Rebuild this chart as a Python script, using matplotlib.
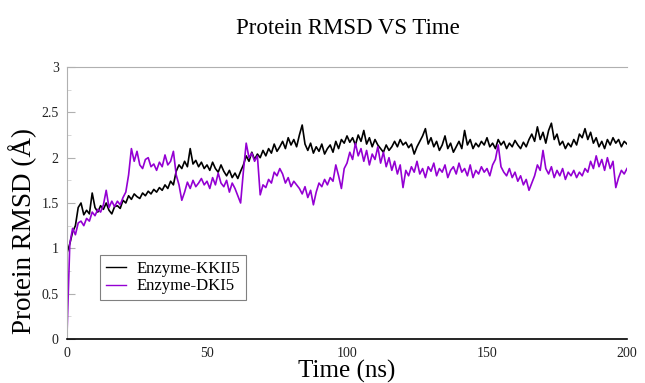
import matplotlib
matplotlib.use("Agg")
import matplotlib.pyplot as plt
from matplotlib.ticker import MultipleLocator

plt.rcParams['font.family'] = ['Liberation Serif', 'DejaVu Serif']

title = "Protein RMSD VS Time"
xlabel = "Time (ns)"
ylabel = "Protein RMSD (Å)"
series_names = ["Enzyme-KKII5", "Enzyme-DKI5"]

time_ns = list(range(0, 201))

rmsd_kkii5 = [
    0.95, 1.05, 1.18, 1.25, 1.45, 1.50, 1.37, 1.42, 1.38, 1.61,
    1.45, 1.40, 1.47, 1.43, 1.50, 1.42, 1.38, 1.46, 1.47, 1.44,
    1.53, 1.50, 1.58, 1.54, 1.60, 1.57, 1.55, 1.61, 1.58, 1.63,
    1.60, 1.65, 1.62, 1.67, 1.64, 1.70, 1.66, 1.74, 1.70, 1.85,
    1.92, 1.88, 1.96, 1.90, 2.10, 1.93, 1.97, 1.90, 1.95, 1.88,
    1.92, 1.86, 1.95, 1.88, 1.84, 1.92, 1.85, 1.80, 1.86, 1.78,
    1.83, 1.77, 1.85, 1.92, 2.02, 1.96, 2.06, 1.98, 2.04, 2.00,
    2.08, 2.02, 2.10, 2.05, 2.15, 2.07, 2.12, 2.18, 2.10, 2.22,
    2.14, 2.20, 2.12, 2.25, 2.36, 2.15, 2.08, 2.16, 2.05, 2.12,
    2.07, 2.15, 2.04, 2.10, 2.14, 2.06, 2.18, 2.10, 2.20, 2.16,
    2.24, 2.17, 2.22, 2.14, 2.25, 2.18, 2.30, 2.15, 2.22, 2.12,
    2.20, 2.14, 2.10, 2.06, 2.14, 2.08, 2.12, 2.18, 2.12, 2.20,
    2.14, 2.17, 2.11, 2.15, 2.04, 2.12, 2.18, 2.24, 2.32, 2.15,
    2.22, 2.12, 2.18, 2.08, 2.14, 2.24, 2.10, 2.16, 2.06, 2.12,
    2.18, 2.10, 2.30, 2.14, 2.20, 2.10, 2.16, 2.12, 2.18, 2.14,
    2.22, 2.12, 2.16, 2.10, 2.20, 2.14, 2.18, 2.10, 2.16, 2.12,
    2.19, 2.14, 2.10, 2.17, 2.12, 2.20, 2.26, 2.18, 2.34, 2.20,
    2.28, 2.16, 2.30, 2.38, 2.20, 2.26, 2.14, 2.18, 2.10, 2.16,
    2.12, 2.20, 2.14, 2.26, 2.22, 2.32, 2.20, 2.28, 2.16, 2.22,
    2.12, 2.18, 2.10, 2.20, 2.14, 2.22, 2.16, 2.20, 2.12, 2.18,
    2.15,
]

rmsd_dki5 = [
    0.05, 1.05, 1.22, 1.15, 1.28, 1.30, 1.25, 1.33, 1.30, 1.40,
    1.36, 1.43, 1.40, 1.48, 1.64, 1.45, 1.52, 1.46, 1.52, 1.48,
    1.56, 1.62, 1.81, 2.10, 1.96, 2.07, 1.92, 1.88, 1.98, 2.00,
    1.90, 1.93, 1.86, 1.95, 1.90, 2.03, 1.92, 1.96, 2.07, 1.81,
    1.70, 1.53, 1.62, 1.73, 1.66, 1.75, 1.68, 1.72, 1.77, 1.70,
    1.74, 1.66, 1.78, 1.70, 1.83, 1.72, 1.68, 1.75, 1.62, 1.72,
    1.66, 1.58, 1.50, 1.85, 2.16, 2.00, 2.05, 1.96, 2.02, 1.59,
    1.70, 1.67, 1.76, 1.72, 1.84, 1.80, 1.88, 1.82, 1.72, 1.78,
    1.68, 1.74, 1.70, 1.66, 1.60, 1.68, 1.56, 1.64, 1.48, 1.62,
    1.72, 1.68, 1.76, 1.70, 1.78, 1.74, 1.92, 1.80, 1.66, 1.88,
    1.94, 2.06, 1.98, 2.16, 2.02, 2.10, 1.96, 2.08, 1.92, 2.04,
    1.98, 2.12, 1.94, 2.06, 1.90, 2.00, 1.86, 1.96, 1.82, 1.92,
    1.67, 1.86, 1.80, 1.90, 1.84, 1.96, 1.82, 1.88, 1.78, 1.90,
    1.85, 1.94, 1.80, 1.88, 1.84, 1.92, 1.78, 1.86, 1.90, 1.82,
    1.94, 1.84, 1.88, 1.80, 1.92, 1.78, 1.86, 1.82, 1.90, 1.84,
    1.88, 1.80, 1.92, 1.98, 2.14, 1.90, 1.84, 1.80, 1.88, 1.78,
    1.84, 1.74, 1.80, 1.70, 1.76, 1.64, 1.72, 1.80, 1.92, 1.86,
    2.08, 1.88, 1.82, 1.90, 1.78, 1.86, 1.80, 1.88, 1.76, 1.84,
    1.80, 1.86, 1.78, 1.84, 1.80, 1.88, 1.84, 1.96, 1.88, 2.02,
    1.90, 1.98, 1.86, 2.00, 1.88, 1.96, 1.67, 1.78, 1.86, 1.82,
    1.88,
]

x_ticks = [0, 50, 100, 150, 200]
y_ticks = [0, 0.5, 1, 1.5, 2, 2.5, 3]
y_tick_labels = ["0", "0.5", "1", "1.5", "2", "2.5", "3"]

fig = plt.figure(figsize=(6.45, 3.83), dpi=100)
ax = fig.add_axes([67 / 645, 44 / 383, 560 / 645, 272 / 383])

ax.plot(time_ns, rmsd_kkii5, color="#000000", lw=1.2, label=series_names[0])
ax.plot(time_ns, rmsd_dki5, color="#9400D3", lw=1.2, label=series_names[1])

ax.set_xlim(0, 200)
ax.set_ylim(0, 3)
ax.set_xticks(x_ticks)
ax.set_xticklabels([str(v) for v in x_ticks], fontsize=10)
ax.set_yticks(y_ticks)
ax.set_yticklabels(y_tick_labels, fontsize=10)
ax.yaxis.set_minor_locator(MultipleLocator(0.25))

ax.tick_params(axis="y", which="major", direction="in", length=6, width=0.8,
               color="#b0b0b0", pad=6, labelcolor="#202020")
ax.tick_params(axis="y", which="minor", direction="in", length=3, width=0.6,
               color="#d0d0d0")
ax.tick_params(axis="x", which="both", length=0, pad=6, labelcolor="#202020")

ax.spines["right"].set_visible(False)
ax.spines["top"].set_color("#b0b0b0")
ax.spines["left"].set_color("#b0b0b0")
ax.spines["bottom"].set_color("#000000")
ax.spines["bottom"].set_linewidth(1.2)

ax.set_xlabel(xlabel, fontsize=18, labelpad=0)
ax.set_ylabel(ylabel, fontsize=19.5)
ax.yaxis.set_label_coords(-30 / 560, 0.397)
fig.suptitle(title, fontsize=16.5, x=(348) / 645, y=1 - 28 / 383, va="center")

leg = ax.legend(loc="upper left", bbox_to_anchor=(33 / 560, 84 / 272),
                borderaxespad=0, fontsize=12, frameon=True, fancybox=False,
                handlelength=1.2, handletextpad=0.65, borderpad=0.35,
                labelspacing=0.1)
leg.get_frame().set_edgecolor("#606060")
leg.get_frame().set_linewidth(0.8)
for line in leg.get_lines():
    line.set_linewidth(1.0)

fig.savefig("out.png", dpi=100)
